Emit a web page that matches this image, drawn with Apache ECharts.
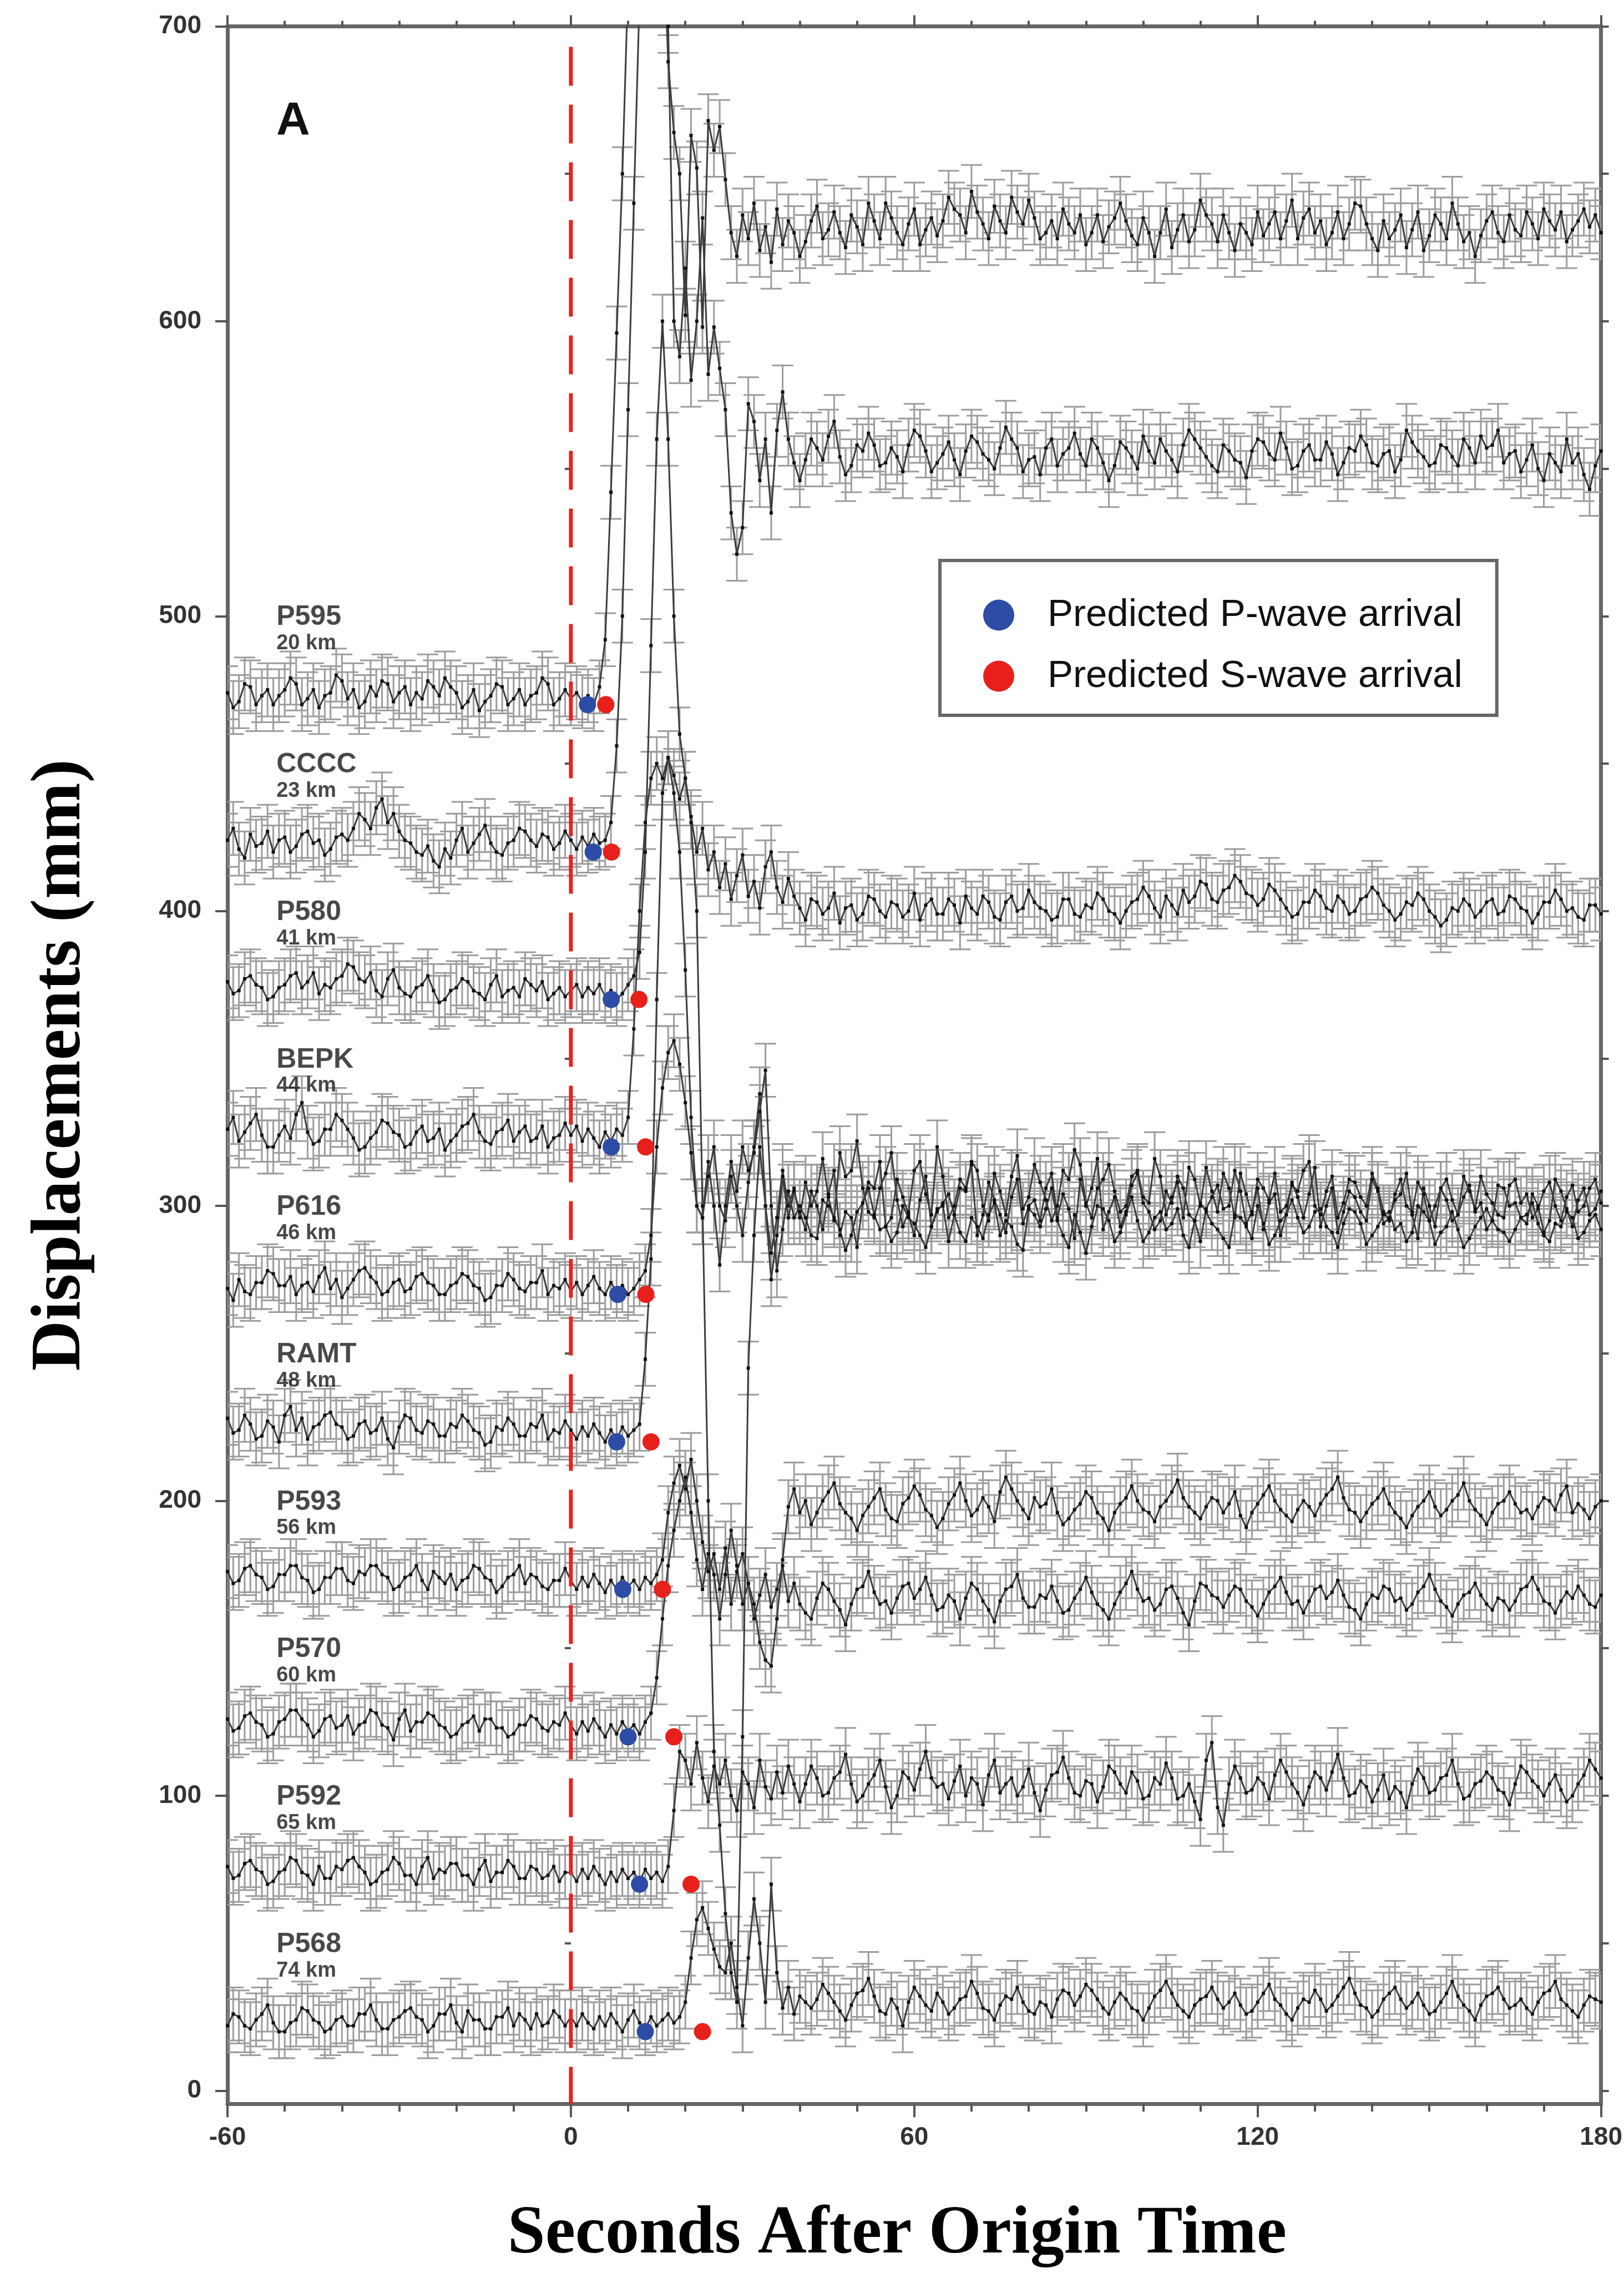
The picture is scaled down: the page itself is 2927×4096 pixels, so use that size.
<!DOCTYPE html>
<html><head><meta charset="utf-8">
<script src="https://cdn.jsdelivr.net/npm/echarts@6/dist/echarts.min.js"></script>
<style>html,body{margin:0;padding:0;background:#fff}#c{width:2927px;height:4096px}</style>
</head><body><div id="c"></div>
<script>
// time (s after origin), 1 s sampling
const t = [-60,-59,-58,-57,-56,-55,-54,-53,-52,-51,-50,-49,-48,-47,-46,-45,-44,-43,-42,-41,-40,-39,-38,-37,-36,-35,-34,-33,-32,-31,
-30,-29,-28,-27,-26,-25,-24,-23,-22,-21,-20,-19,-18,-17,-16,-15,-14,-13,-12,-11,-10,-9,-8,-7,-6,-5,-4,-3,-2,-1,
0,1,2,3,4,5,6,7,8,9,10,11,12,13,14,15,16,17,18,19,20,21,22,23,24,25,26,27,28,29,30,31,32,33,34,35,36,37,38,39,40,
41,42,43,44,45,46,47,48,49,50,51,52,53,54,55,56,57,58,59,60,61,62,63,64,65,66,67,68,69,70,71,72,73,74,75,76,77,78,79,80,
81,82,83,84,85,86,87,88,89,90,91,92,93,94,95,96,97,98,99,100,101,102,103,104,105,106,107,108,109,110,111,112,113,114,115,116,117,118,119,120,
121,122,123,124,125,126,127,128,129,130,131,132,133,134,135,136,137,138,139,140,141,142,143,144,145,146,147,148,149,150,151,152,153,154,155,156,157,158,159,160,
161,162,163,164,165,166,167,168,169,170,171,172,173,174,175,176,177,178,179,180];

const stations = ['P595','CCCC','P580','BEPK','P616','RAMT','P593','P570','P592','P568'];
const distances = ['20 km','23 km','41 km','44 km','46 km','48 km','56 km','60 km','65 km','74 km'];
const offsets = [475,425,375,325,275,225,175,125,75,25];
const pArrival = [2.9,3.9,7.05,7.05,8.2,8.0,9.07,10.0,12.0,13.0];
const sArrival = [6.1,7.1,11.9,13.06,13.1,14.0,16.0,18.0,21.0,23.0];
const errs = [9,9,9,9,9,9,9,9,9,9];
const yTicks = [0,100,200,300,400,500,600,700];
const yMinorTicks = [50,150,250,350,450,550,650];
const yRightTicks = [0,50,100,150,200,250,300,350,400,450,500,550,600,650,700];

const dP595 = [
474,469,471,477,476,470,473,475,470,473,475,479,477,470,472,475,469,473,474,480,
478,472,475,469,471,476,473,478,477,471,474,476,470,474,472,478,476,473,479,476,
474,469,471,475,468,471,473,477,476,470,472,475,470,473,474,479,477,470,472,475,
472,474,471,473,470,476,492,542,596,650,715,790,840,860,845,800,740,688,664,650,602,663,652,598,668,658,666,648,630,622,636,628,640,624,632,620,638,626,634,630,622,
627,634,639,628,631,637,630,625,636,632,626,640,634,628,640,635,630,626,633,638,
626,631,635,629,634,642,638,636,630,644,637,633,628,639,634,630,642,637,633,641,
635,628,630,634,628,638,633,630,636,626,630,636,627,632,635,640,634,629,626,635,
630,622,630,638,625,631,636,627,631,641,636,633,627,636,630,624,633,630,626,637,
629,633,637,628,634,641,628,635,638,630,634,626,630,637,628,633,640,639,633,628,
624,634,628,631,636,625,631,637,624,629,636,633,628,640,633,627,630,622,629,634,
637,630,627,636,631,629,637,633,628,638,634,631,637,627,631,634,638,632,636,630];
const dCCCC = [
424,428,421,418,426,422,423,427,420,424,425,420,422,426,427,423,424,419,421,425,
426,424,428,433,431,428,435,438,430,433,427,424,423,420,419,422,417,415,421,418,
424,428,420,423,426,429,423,420,419,423,424,428,427,424,422,426,425,421,423,427,
424,421,425,422,426,423,424,430,456,500,570,640,710,770,800,790,760,700,600,588,618,580,600,635,582,598,584,570,535,521,530,572,566,546,560,535,563,576,560,552,546,
553,560,557,553,561,566,554,548,551,558,556,562,558,551,552,557,554,549,558,563,
561,556,549,552,555,559,553,548,556,561,559,555,553,550,557,564,560,557,549,553,
554,548,557,560,551,555,557,562,555,551,560,557,552,546,551,559,557,554,550,561,
556,552,560,556,553,549,558,563,560,557,554,551,549,558,556,553,552,547,556,560,
559,555,553,562,557,550,551,556,558,553,553,559,555,548,552,557,556,561,558,552,
551,555,556,549,553,563,559,556,554,551,552,558,557,554,551,560,557,552,561,557,
558,563,552,555,556,549,553,558,550,546,555,552,549,560,552,555,548,543,551,556];
const dP580 = [
376,372,373,377,378,375,374,370,371,374,375,378,379,374,376,379,372,375,374,377,
378,382,381,377,376,379,373,371,377,380,374,372,371,374,375,378,373,369,370,373,
374,377,376,373,372,370,375,378,371,373,374,371,377,375,373,376,370,372,374,371,
373,375,371,374,372,375,371,373,370,372,375,378,386,420,490,560,600,560,500,460,445,432,420,428,414,420,408,416,404,412,419,405,410,401,415,420,408,403,411,405,401,
397,404,403,399,401,406,396,401,402,397,399,405,404,400,398,403,402,398,400,406,
397,402,404,399,399,404,402,396,405,401,399,405,403,398,397,403,405,400,401,407,
403,401,400,397,398,404,404,399,398,402,401,406,404,400,399,396,400,403,404,408,
405,401,398,405,402,399,407,403,405,410,409,404,403,407,408,412,410,406,405,402,
404,409,407,404,401,398,399,403,403,407,405,401,400,405,403,399,400,404,405,408,
406,402,400,397,399,403,402,406,404,400,398,395,397,401,400,404,402,398,400,403,
404,399,400,405,404,401,400,396,399,403,403,407,404,400,401,398,397,402,402,399];
const dBEPK = [
326,330,322,325,328,331,324,320,320,324,327,323,331,335,325,321,322,326,326,331,
329,326,323,319,320,323,325,329,328,325,324,320,321,325,327,322,323,326,319,322,
324,327,328,331,325,322,321,325,326,329,322,325,327,322,323,327,320,323,324,328,
324,327,322,326,323,320,325,322,326,324,330,360,400,430,445,450,445,452,440,420,380,330,300,296,310,320,300,295,310,300,290,308,320,338,300,284,296,312,300,306,296,
308,300,305,316,303,295,318,310,312,322,306,298,296,306,311,318,302,293,298,312,
315,304,297,320,310,296,300,309,306,315,312,300,295,311,305,297,310,317,299,303,
314,308,302,295,300,312,309,319,314,301,296,306,309,314,305,298,300,310,312,303,
301,316,310,297,303,308,296,313,309,300,313,305,298,311,306,296,311,304,297,309,
306,302,311,298,300,307,305,312,315,300,297,305,310,296,301,309,308,303,300,311,
306,298,295,304,309,300,298,308,304,295,300,306,309,302,297,310,305,299,310,304,
301,297,296,307,309,301,304,296,299,305,308,300,295,303,307,298,300,306,309,301];
const dP616 = [
272,268,275,271,270,274,274,278,277,273,273,276,270,273,274,271,276,279,272,275,
269,272,275,278,279,276,274,270,271,274,275,271,272,276,277,274,273,270,270,273,
274,277,276,273,272,268,269,273,273,277,275,272,271,274,274,278,270,273,272,275,
271,274,270,273,276,272,270,274,271,273,270,272,275,278,290,320,340,352,356,348,335,318,300,296,315,300,280,300,315,305,320,312,318,332,346,300,278,292,305,296,300,
296,290,289,302,300,296,292,285,290,298,301,306,297,292,293,288,291,300,296,294,
290,286,293,298,301,304,297,291,288,296,293,289,297,301,290,295,293,287,285,299,
297,293,299,306,295,290,286,297,291,284,293,300,299,295,288,291,297,303,295,288,
291,296,298,292,294,299,290,286,295,301,298,294,292,289,286,297,296,293,289,300,
294,287,290,295,297,302,296,291,293,298,299,293,291,286,294,299,298,294,287,290,
293,297,298,292,294,288,291,300,298,295,287,291,293,298,292,286,289,293,296,299,
295,292,291,288,292,296,297,301,294,290,288,294,293,298,296,289,291,295,297,292];
const dRAMT = [
228,223,224,229,226,221,222,227,225,220,229,232,224,228,221,225,226,229,230,226,
225,221,222,226,227,223,224,228,221,218,225,229,228,224,223,227,226,222,222,226,
225,229,227,224,223,219,220,225,224,228,226,222,222,226,225,229,221,224,223,227,
224,221,225,222,226,223,220,224,221,225,222,224,226,248,282,370,440,452,446,438,445,430,400,300,200,115,90,60,40,30,120,245,290,320,300,275,290,310,296,305,298,
292,305,300,292,304,312,290,298,296,286,301,308,306,315,293,296,309,303,297,290,
302,310,293,299,300,288,297,306,305,314,290,297,308,302,297,291,303,309,294,300,
302,295,306,311,296,304,299,289,309,300,306,316,292,298,303,293,298,307,311,301,
298,292,295,305,301,310,306,297,295,288,299,303,307,299,300,312,305,294,298,306,
292,301,304,290,297,308,303,296,304,313,293,300,306,291,298,305,303,298,295,309,
305,294,296,302,304,311,297,289,306,300,293,306,302,295,297,303,307,298,301,292,
295,307,306,300,301,296,294,304,300,291,295,309,305,299,293,302,306,297,299,305];
const dP593 = [
176,172,173,177,178,175,174,170,171,175,175,178,178,174,173,169,170,174,174,177,
177,173,172,176,175,178,178,175,174,170,171,174,175,178,173,170,176,174,172,175,
170,173,174,178,177,174,173,169,171,174,175,178,172,175,174,171,170,173,173,177,
173,170,174,171,175,172,169,173,170,174,171,173,170,174,172,175,180,196,206,212,204,214,200,186,176,182,170,184,165,176,182,172,165,152,146,144,160,180,198,204,196,
200,192,196,200,203,206,199,196,194,190,195,198,201,204,197,194,193,199,201,205,
202,197,195,191,194,199,202,206,200,195,197,201,198,193,203,208,204,200,197,194,
201,198,199,204,196,192,194,197,199,203,201,196,194,190,196,199,201,205,200,197,
196,193,198,200,203,207,201,198,196,194,198,201,200,196,199,203,195,191,196,199,
202,205,200,197,195,193,197,200,198,195,199,202,204,208,201,197,196,193,196,199,
201,204,199,196,194,191,195,198,200,203,198,195,197,200,202,206,200,197,195,192,
196,199,200,203,199,196,197,194,198,201,200,197,202,205,196,199,197,194,198,200];
const dP570 = [
126,122,123,127,128,125,124,120,121,125,126,129,129,126,124,120,122,126,127,123,
124,127,121,124,125,129,128,124,123,119,126,129,122,125,125,128,127,124,123,120,
121,124,125,127,122,126,126,123,123,120,121,124,124,127,126,123,122,125,124,128,
124,121,125,122,126,123,120,124,121,125,122,124,121,125,128,140,160,178,190,200,208,196,180,170,182,175,160,175,190,178,165,172,160,168,175,164,170,178,166,172,165,
162,160,167,172,170,166,163,158,165,170,171,176,169,165,166,162,167,171,172,167,
170,174,168,163,164,168,166,160,167,172,170,166,163,159,166,170,171,175,167,164,
164,168,167,171,166,162,163,167,170,174,169,165,163,160,165,169,172,176,170,166,
167,163,165,170,171,167,162,158,166,172,171,168,167,164,168,171,170,166,164,161,
165,169,171,174,169,165,166,162,166,170,171,167,169,173,168,164,163,160,165,168,
167,171,170,166,167,163,165,169,171,175,170,166,164,161,165,168,169,172,168,165,
163,167,166,163,166,170,171,174,170,166,165,162,166,169,167,171,168,165,164,168];
const dP592 = [
76,72,73,77,78,75,74,70,71,74,75,79,78,74,73,70,76,72,72,76,
75,78,79,76,74,70,71,74,75,79,77,73,73,70,76,79,72,75,74,77,
77,73,73,70,75,78,71,74,74,78,76,72,72,76,75,72,73,76,71,74,
74,71,75,72,76,73,70,74,71,75,72,74,71,75,72,74,71,76,95,115,112,104,118,106,98,110,104,112,100,95,108,104,96,112,103,99,108,101,110,104,98,
104,110,106,100,101,106,108,114,104,98,100,104,107,112,103,96,100,108,106,102,
109,115,106,103,104,99,105,110,100,106,104,97,107,112,101,104,106,100,103,109,
101,95,102,107,108,113,106,101,100,105,104,98,103,110,108,104,101,108,105,99,
100,106,104,111,106,99,100,104,98,92,112,118,96,90,104,110,106,101,102,106,
104,99,107,112,108,104,101,97,103,108,106,102,108,114,106,100,101,105,103,98,
102,107,99,103,101,96,104,109,106,101,102,106,107,112,104,99,100,104,105,108,
106,102,101,97,104,110,108,105,103,100,104,107,102,98,100,104,107,112,109,106];
const dP568 = [
22,26,25,22,21,24,26,29,23,20,20,23,24,28,27,24,23,20,21,24,
25,22,22,26,26,29,24,21,21,24,25,27,28,25,24,20,22,26,26,29,
23,20,27,24,24,21,21,25,25,28,22,26,24,21,26,22,23,27,25,22,
25,22,26,23,21,25,22,26,23,20,24,27,23,21,25,22,24,26,23,25,30,45,58,62,55,48,42,40,50,35,22,45,65,50,30,70,40,28,35,26,32,
30,28,31,36,33,30,27,24,29,33,34,38,32,27,26,31,28,22,30,35,
32,29,27,33,30,26,28,31,32,37,33,28,27,24,29,32,31,35,30,27,
26,30,29,25,31,34,33,29,32,36,34,31,28,26,30,33,31,28,27,24,
28,32,34,37,33,29,27,25,29,31,32,35,31,28,30,33,29,26,27,30,
33,36,31,29,26,24,28,31,30,34,31,27,29,32,35,38,33,29,28,25,
27,31,33,35,31,28,30,33,29,26,27,30,33,37,32,29,27,24,29,32,
33,35,31,28,29,31,28,26,30,33,34,37,31,29,27,25,29,32,31,30];
const traces = [dP595,dCCCC,dP580,dBEPK,dP616,dRAMT,dP593,dP570,dP592,dP568];

const chart = echarts.init(document.getElementById('c'), null, {renderer:'canvas'});
const series = [];
const capHalf = 19;
function errItem(params, api) {
  const x = api.value(0), y = api.value(1), e = api.value(2);
  const a = api.coord([x, y + e]), b = api.coord([x, y - e]);
  const st = {stroke:'#9c9c9c', lineWidth:3};
  return {type:'group', children:[
    {type:'line', shape:{x1:a[0], y1:a[1], x2:b[0], y2:b[1]}, style:st},
    {type:'line', shape:{x1:a[0]-capHalf, y1:a[1], x2:a[0]+capHalf, y2:a[1]}, style:st},
    {type:'line', shape:{x1:b[0]-capHalf, y1:b[1], x2:b[0]+capHalf, y2:b[1]}, style:st}
  ]};
}
stations.forEach((name, i) => {
  const v = traces[i];
  series.push({type:'custom', name: name + ' error', renderItem: errItem, clip:true, z:1,
    encode:{x:0, y:1}, data: t.map((x,k)=>[x, v[k], errs[i]]), silent:true});
  series.push({type:'line', name: name, data: t.map((x,k)=>[x, v[k]]), clip:true, z:2,
    symbol:'rect', symbolSize:6, showAllSymbol:true, itemStyle:{color:'#111'},
    lineStyle:{color:'#3c3c3c', width:3}, silent:true});
});
// station labels
series.push({type:'scatter', name:'labels', symbolSize:1, itemStyle:{color:'transparent'}, z:4, silent:true,
  data: stations.map((s,i)=>({value:[-51.5, offsets[i] + 20.4], st:s, dist:distances[i]})),
  label:{show:true, position:'right', distance:0, align:'left', verticalAlign:'middle',
    formatter: p => '{a|' + p.data.st + '}\n{b|' + p.data.dist + '}',
    rich:{a:{fontSize:50, fontWeight:'bold', fontFamily:'Liberation Sans', color:'#1a1a1a', lineHeight:50},
          b:{fontSize:38, fontWeight:'bold', fontFamily:'Liberation Sans', color:'#1a1a1a', lineHeight:44}}}});
// origin time line
series.push({type:'line', name:'origin', data:[[0,693],[0,-4.5]], symbol:'none', z:5, silent:true,
  lineStyle:{color:'#e8231f', width:7, type:[70,34]}});
series.push({type:'scatter', name:'Predicted P-wave arrival', symbol:'circle', symbolSize:31, z:6,
  itemStyle:{color:'#2d4ca6', opacity:1}, data: pArrival.map((x,i)=>[x, offsets[i]-5])});
series.push({type:'scatter', name:'Predicted S-wave arrival', symbol:'circle', symbolSize:31, z:6,
  itemStyle:{color:'#e8201c', opacity:1}, data: sArrival.map((x,i)=>[x, offsets[i]-5])});

const axisLine = {show:true, onZero:false, lineStyle:{color:'#666', width:7}};
const tickStyle = {color:'#555', width:4};
const labelFont = {fontSize:46, fontWeight:'bold', color:'#333', fontFamily:'Liberation Sans'};
const option = {
  animation:false, backgroundColor:'#fff',
  grid:{left:410, right:20, top:47.4, bottom:304.7, containLabel:false},
  legend:{data:['Predicted P-wave arrival','Predicted S-wave arrival'], orient:'vertical', left:1694, top:1010,
    itemWidth:56, itemHeight:56, itemGap:41, padding:[64,62,36,78], borderColor:'#666', borderWidth:6,
    backgroundColor:'#fff', selectedMode:false, icon:'circle',
    textStyle:{fontSize:69, fontFamily:'Liberation Sans', color:'#111', padding:[0,0,0,55]}},
  xAxis:[
    {type:'value', min:-60, max:180, interval:60, position:'bottom', axisLine:axisLine,
     axisTick:{show:true, length:24, lineStyle:tickStyle},
     minorTick:{show:true, splitNumber:6, length:14, lineStyle:tickStyle},
     axisLabel:Object.assign({margin:38}, labelFont), splitLine:{show:false}, minorSplitLine:{show:false},
     name:'Seconds After Origin Time', nameLocation:'middle', nameGap:236,
     nameTextStyle:{fontFamily:'Liberation Serif', fontWeight:'bold', fontSize:122, color:'#000', verticalAlign:'middle', padding:[0,62,0,0]}},
    {type:'value', min:-60, max:180, interval:60, position:'top', axisLine:axisLine,
     axisTick:{show:true, length:20, lineStyle:tickStyle},
     minorTick:{show:true, splitNumber:6, length:10, lineStyle:tickStyle},
     axisLabel:{show:false}, splitLine:{show:false}}
  ],
  yAxis:[
    {type:'value', min:-4.5, max:700, position:'left', axisLine:axisLine,
     axisTick:{show:true, length:22, customValues:yTicks, lineStyle:tickStyle},
     axisLabel:Object.assign({margin:47, customValues:yTicks}, labelFont), splitLine:{show:false},
     name:'Displacements (mm)', nameLocation:'middle', nameRotate:90, nameGap:300,
     nameTextStyle:{fontFamily:'Liberation Serif', fontWeight:'bold', fontSize:126, color:'#000', verticalAlign:'middle'}},
    {type:'value', min:-4.5, max:700, position:'left', axisLine:{show:false},
     axisTick:{show:true, length:11, customValues:yMinorTicks, lineStyle:tickStyle},
     axisLabel:{show:false}, splitLine:{show:false}},
    {type:'value', min:-4.5, max:700, position:'right', axisLine:axisLine,
     axisTick:{show:true, length:14, customValues:yRightTicks, lineStyle:tickStyle},
     axisLabel:{show:false}, splitLine:{show:false}}
  ],
  graphic:[
    {type:'text', left:498, top:178, z:10, style:{text:'A', font:'bold 84px "Liberation Sans"', fill:'#111'}}
  ],
  series: series
};
chart.setOption(option);
</script></body></html>
